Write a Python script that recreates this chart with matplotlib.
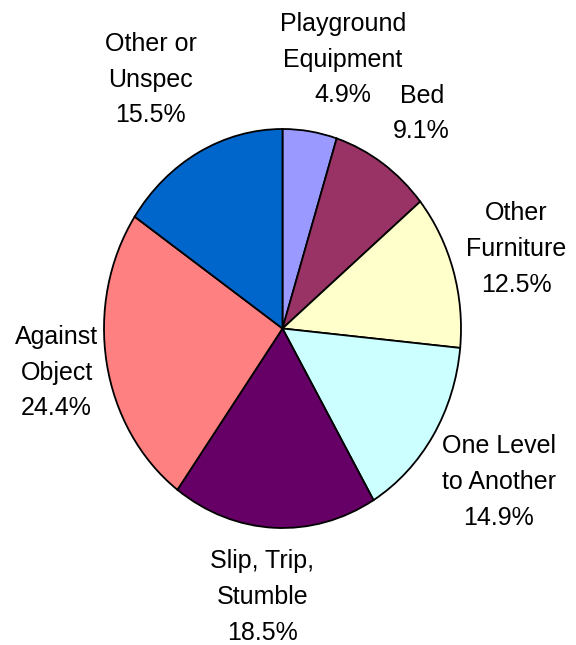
import numpy as np
import matplotlib
matplotlib.use('Agg')
import matplotlib.pyplot as plt

labels = ["Playground\nEquipment", "Bed", "Other\nFurniture", "One Level\nto Another",
          "Slip, Trip,\nStumble", "Against\nObject", "Other or\nUnspec"]
shares = [4.9, 9.1, 12.5, 14.9, 18.5, 24.4, 15.5]
colors = ["#9999FF", "#993366", "#FFFFCC", "#CCFFFF", "#660066", "#FF8080", "#0066CC"]
# label placement: distance from centre (in pie radii) and angle tweak (deg)
label_dist = [1.39, 1.33, 1.37, 1.435, 1.35, 1.285, 1.45]
label_shift = [-5.3, -1.8, 0.0, 0.0, -2.1, 0.0, 2.7]

plt.rcParams['font.family'] = ['Liberation Sans', 'DejaVu Sans']

fig = plt.figure(figsize=(5.76, 6.45), dpi=100)
ax = fig.add_axes([0, 0, 1, 1])
wedges, _ = ax.pie(shares, colors=colors, startangle=90, counterclock=False,
                   radius=1.0, wedgeprops=dict(edgecolor='black', linewidth=1.3))

for w, lab, val, d, s in zip(wedges, labels, shares, label_dist, label_shift):
    mid = np.deg2rad((w.theta1 + w.theta2) / 2 + s)
    ax.text(d * np.cos(mid), d * np.sin(mid), f"{lab}\n{val:.1f}%",
            ha='center', va='center', fontsize=18, linespacing=1.62)

# the pie is drawn slightly taller than wide (as in the source chart):
# centre at pixel (282.5, 328.5), radii 178.5 px across, 199.5 px down
rx, ry = 178.5, 199.5
ax.set_xlim(-282.5 / rx, (576 - 282.5) / rx)
ax.set_ylim(-(645 - 328.5) / ry, 328.5 / ry)
ax.set_aspect('auto')
ax.axis('off')

fig.savefig('out.png', dpi=100)
